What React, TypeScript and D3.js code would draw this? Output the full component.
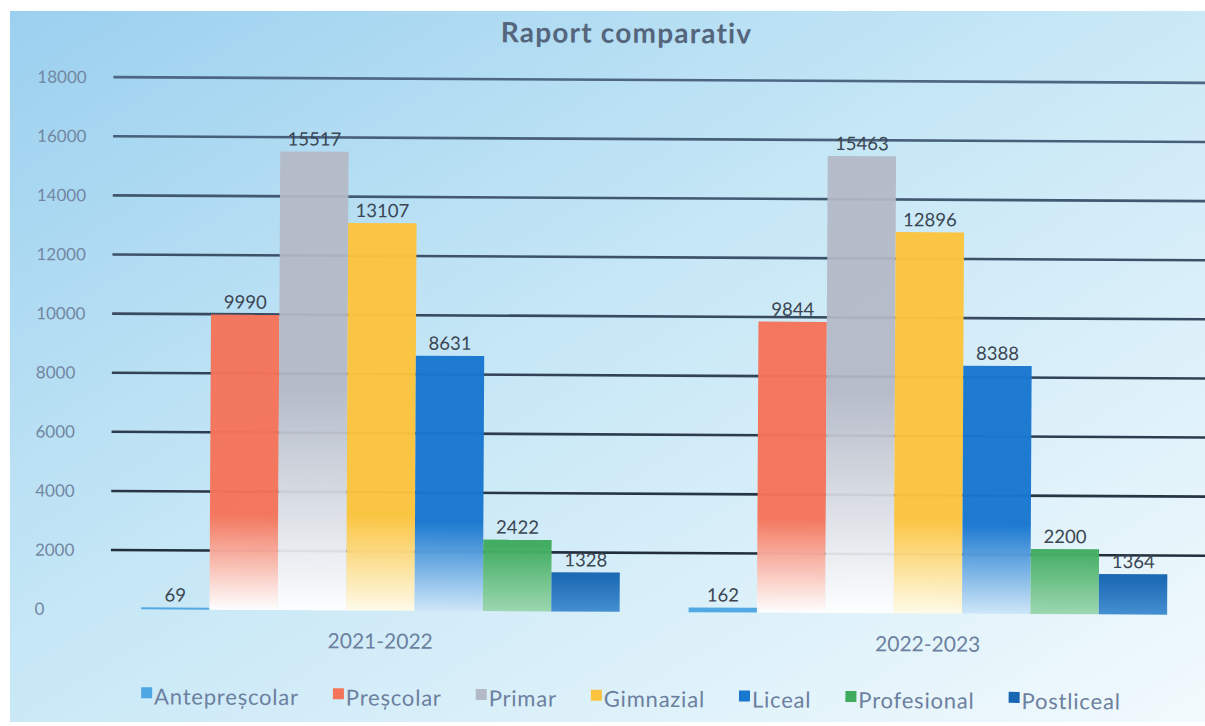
import React from "react";
import * as d3 from "d3";

const years = ["2021-2022", "2022-2023"];
const seriesNames = ["Antepreșcolar", "Preșcolar", "Primar", "Gimnazial", "Liceal", "Profesional", "Postliceal"];
const values2021 = [69, 9990, 15517, 13107, 8631, 2422, 1328];
const values2022 = [162, 9844, 15463, 12896, 8388, 2200, 1364];
const yTicks = [0, 2000, 4000, 6000, 8000, 10000, 12000, 14000, 16000, 18000];
const chartTitle = "Raport comparativ";

const seriesColors = ["#4ea6e2", "#f4745a", "#b4b9c6", "#fcc43e", "#1877cf", "#3eab5e", "#1766b3"];
// value where the bar starts fading, and the colour it fades to at zero
const fadeStart = [0, 3200, 7500, 3200, 3000, 2200, 1200];
const fadeEnd = ["#4ea6e2", "#ffffff", "#ffffff", "#fffbe8", "#cde6f8", "#9ad6ae", "#3f8ccf"];

const W = 1205;
const H = 726;

export default function App() {
  const rows = years.map((yr, i) => ({ year: yr, values: i === 0 ? values2021 : values2022 }));
  const y = d3.scaleLinear().domain([0, 18000]).range([612, 80]);
  const x0 = d3.scaleBand<string>().domain(years).range([108, 1203]).paddingInner(0.126).paddingOuter(0.063);
  const x1 = d3.scaleBand<string>().domain(seriesNames).range([0, x0.bandwidth()]);
  const lineColor = d3.scaleLinear<string>().domain([0, 18000]).range(["#1d2733", "#4d6683"]);
  const font = "Lato, 'Open Sans', 'Noto Sans', sans-serif";

  // legend layout
  const legendGap = 34;
  const legendFont = 22;
  const legendSpacing = 0.8;
  const measure = (t: string) => {
    const c = document.createElement("canvas").getContext("2d")!;
    c.font = `${legendFont}px Lato`;
    return c.measureText(t).width + legendSpacing * t.length;
  };
  let lx = 143;
  const legendItems = seriesNames.map((n, i) => {
    const item = { name: n, x: lx, color: seriesColors[i] };
    lx += 13 + measure(n) + legendGap;
    return item;
  });

  return (
    <svg width={W} height={H} style={{ position: "absolute", left: 0, top: 0 }} fontFamily={font}>
      <defs>
        <linearGradient id="bg" x1="0" y1="0" x2="1" y2="1">
          <stop offset="0" stopColor="#9bd0ef" />
          <stop offset="0.45" stopColor="#c6e7f6" />
          <stop offset="1" stopColor="#f2fafd" />
        </linearGradient>
        {seriesNames.map((n, i) => (
          <linearGradient key={n} id={`g${i}`} gradientUnits="userSpaceOnUse" x1="0" x2="0" y1={y(fadeStart[i])} y2={y(0)}>
            <stop offset="0" stopColor={seriesColors[i]} />
            <stop offset="1" stopColor={fadeEnd[i]} />
          </linearGradient>
        ))}
      </defs>
      <rect x={0} y={0} width={W} height={H} fill="#ffffff" />
      <rect x={10} y={11} width={W - 10} height={H - 15} fill="url(#bg)" />
      <g transform={`rotate(0.3, 656, 345)`}>
        <text x={625} y={43} textAnchor="middle" fontSize={28} fontWeight="bold" letterSpacing={1.2} fill="#55667c">
          {chartTitle}
        </text>
        {yTicks.map((t) => (
          <g key={t}>
            {t > 0 && (
              <line x1={112} x2={1210} y1={y(t)} y2={y(t)} stroke={lineColor(t)} strokeWidth={2.6} />
            )}
            <text x={36} y={y(t) + 6} fontSize={17} fill="#7287a2">
              {t}
            </text>
          </g>
        ))}
        {rows.map((r) => (
          <g key={r.year} transform={`translate(${x0(r.year)},0)`}>
            {r.values.map((v, i) => {
              const bx = x1(seriesNames[i])!;
              const by = y(v);
              return (
                <g key={i}>
                  <rect
                    x={bx}
                    y={by}
                    width={x1.bandwidth()}
                    height={Math.max(y(0) - by, 2)}
                    fill={i === 0 ? seriesColors[0] : `url(#g${i})`}
                    opacity={i === 2 ? 0.93 : 0.97}
                  />
                  <text x={bx + x1.bandwidth() / 2} y={by - 6} textAnchor="middle" fontSize={18.5} fill="#3b4653">
                    {v}
                  </text>
                </g>
              );
            })}
            <text x={x0.bandwidth() / 2} y={650} textAnchor="middle" fontSize={21} fill="#6c80a0">
              {r.year}
            </text>
          </g>
        ))}
        {legendItems.map((it) => (
          <g key={it.name}>
            <rect x={it.x} y={690} width={11} height={11} fill={it.color} />
            <text x={it.x + 13} y={707} fontSize={legendFont} letterSpacing={legendSpacing} fill="#6c80a0">
              {it.name}
            </text>
          </g>
        ))}
      </g>
    </svg>
  );
}
